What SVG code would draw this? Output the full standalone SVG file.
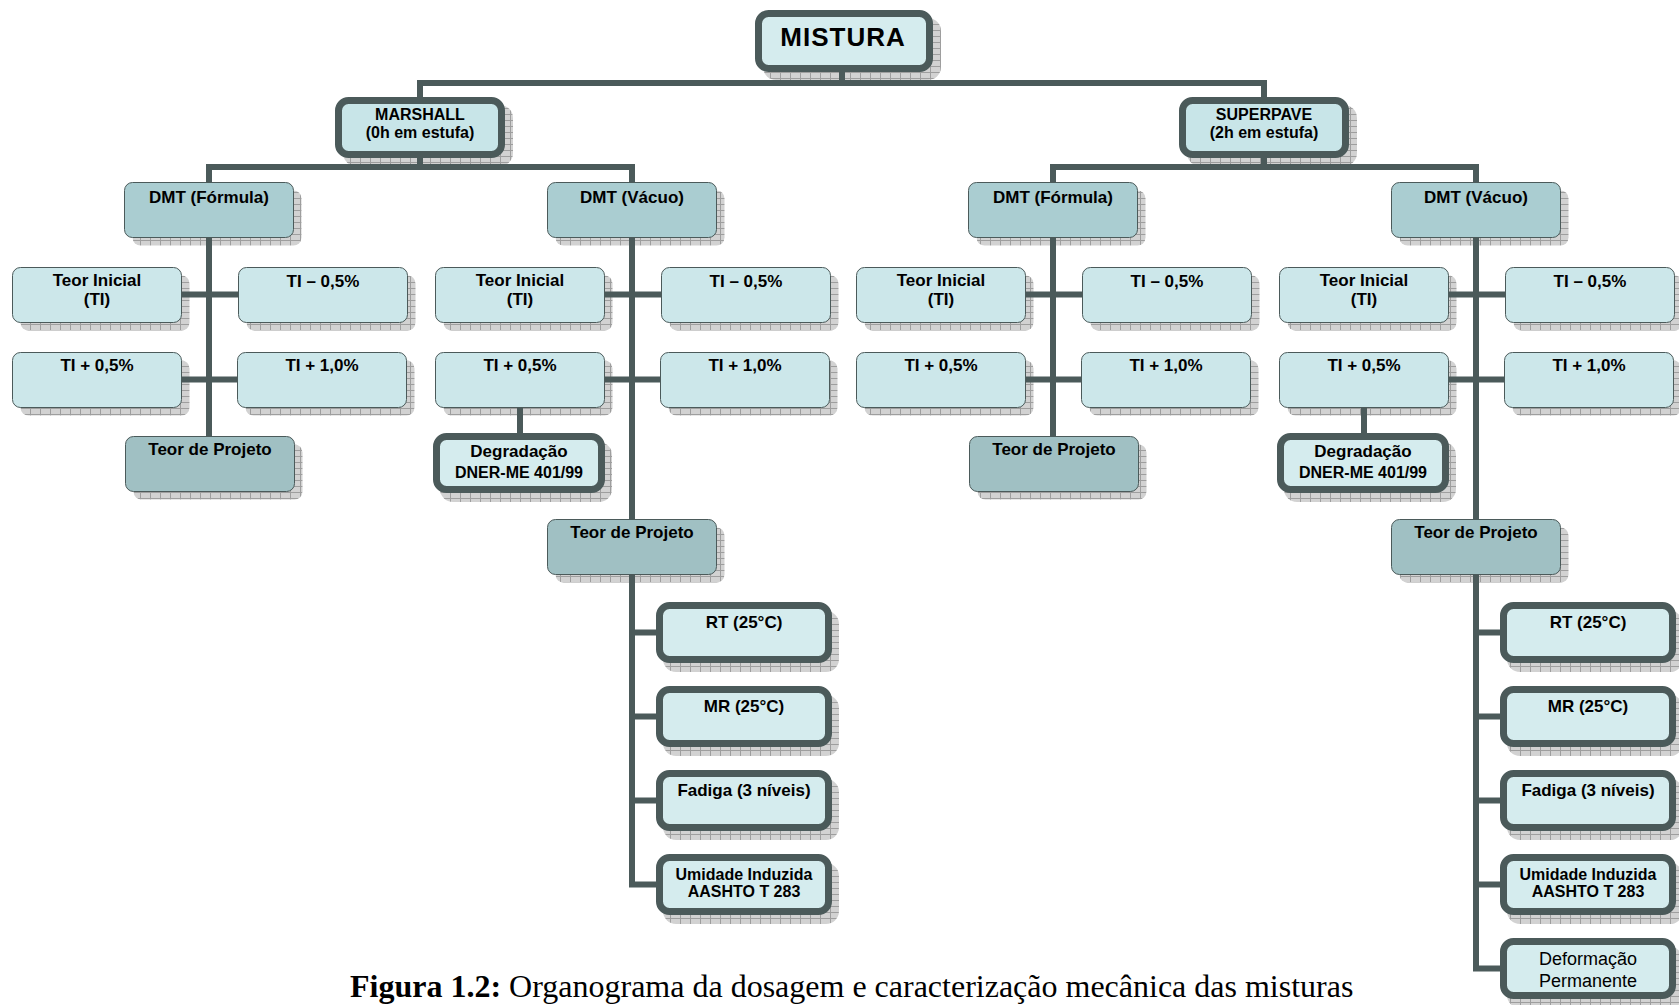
<svg xmlns="http://www.w3.org/2000/svg" width="1679" height="1005" viewBox="0 0 1679 1005">
<defs>
<pattern id="hatch" width="10" height="6" patternUnits="userSpaceOnUse">
<rect width="10" height="6" fill="#d2d2d2"/>
<path d="M0 0.5H10M0.5 0V6" stroke="#9e9e9e" stroke-width="1"/>
</pattern>
</defs>
<style>
.sh{fill:url(#hatch)}
.lt{fill:#cce7ea;stroke:#4b5a5a;stroke-width:1}
.dm{fill:#aacdd1;stroke:#4b5a5a;stroke-width:1}
.pj{fill:#a0c0c3;stroke:#4b5a5a;stroke-width:1}
.tk{fill:#d5ecee;stroke:#4b5a5a;stroke-width:7}
.hd{fill:#c8e5e8;stroke:#4b5a5a;stroke-width:7}
.c{stroke:#4b5a5a;stroke-width:6;fill:none}
.t{font-family:"Liberation Sans",Arial,sans-serif;font-weight:bold;font-size:17px;text-anchor:middle;fill:#000}
.s{font-size:16px}
.r{font-weight:normal;font-size:18px}
.cap{font-family:"Liberation Serif","Times New Roman",serif;font-size:32px;fill:#000}
</style>

<g id="shadows">
<rect class="sh" x="763" y="18" width="178" height="62" rx="13"/>
<rect class="sh" x="343" y="105" width="170" height="61" rx="13"/>
<rect class="sh" x="1187" y="105" width="170" height="61" rx="13"/>
<rect class="sh" x="132.5" y="190.5" width="169" height="55" rx="8"/>
<rect class="sh" x="20.5" y="275.5" width="169" height="55" rx="8"/>
<rect class="sh" x="246.5" y="275.5" width="169" height="55" rx="8"/>
<rect class="sh" x="20.5" y="360.5" width="169" height="55" rx="8"/>
<rect class="sh" x="245.5" y="360.5" width="169" height="55" rx="8"/>
<rect class="sh" x="133.5" y="444.5" width="169" height="55" rx="8"/>
<rect class="sh" x="555.5" y="190.5" width="169" height="55" rx="8"/>
<rect class="sh" x="443.5" y="275.5" width="169" height="55" rx="8"/>
<rect class="sh" x="669.5" y="275.5" width="169" height="55" rx="8"/>
<rect class="sh" x="443.5" y="360.5" width="169" height="55" rx="8"/>
<rect class="sh" x="668.5" y="360.5" width="169" height="55" rx="8"/>
<rect class="sh" x="440" y="442" width="172" height="60" rx="13"/>
<rect class="sh" x="555.5" y="527.5" width="169" height="55" rx="8"/>
<rect class="sh" x="663" y="611" width="176" height="61" rx="13"/>
<rect class="sh" x="663" y="695" width="176" height="61" rx="13"/>
<rect class="sh" x="663" y="779" width="176" height="61" rx="13"/>
<rect class="sh" x="663" y="863" width="176" height="61" rx="13"/>
<rect class="sh" x="976.5" y="190.5" width="169" height="55" rx="8"/>
<rect class="sh" x="864.5" y="275.5" width="169" height="55" rx="8"/>
<rect class="sh" x="1090.5" y="275.5" width="169" height="55" rx="8"/>
<rect class="sh" x="864.5" y="360.5" width="169" height="55" rx="8"/>
<rect class="sh" x="1089.5" y="360.5" width="169" height="55" rx="8"/>
<rect class="sh" x="977.5" y="444.5" width="169" height="55" rx="8"/>
<rect class="sh" x="1399.5" y="190.5" width="169" height="55" rx="8"/>
<rect class="sh" x="1287.5" y="275.5" width="169" height="55" rx="8"/>
<rect class="sh" x="1513.5" y="275.5" width="169" height="55" rx="8"/>
<rect class="sh" x="1287.5" y="360.5" width="169" height="55" rx="8"/>
<rect class="sh" x="1512.5" y="360.5" width="169" height="55" rx="8"/>
<rect class="sh" x="1284" y="442" width="172" height="60" rx="13"/>
<rect class="sh" x="1399.5" y="527.5" width="169" height="55" rx="8"/>
<rect class="sh" x="1507" y="611" width="176" height="61" rx="13"/>
<rect class="sh" x="1507" y="695" width="176" height="61" rx="13"/>
<rect class="sh" x="1507" y="779" width="176" height="61" rx="13"/>
<rect class="sh" x="1507" y="863" width="176" height="61" rx="13"/>
<rect class="sh" x="1507" y="947" width="176" height="61" rx="13"/>
</g>

<g id="connectors">
<path class="c" d="M842 72V83M417 83H1267M420 83V98M1264 83V98"/>
<path class="c" d="M420 158V167M206 167H635M209 167V183M632 167V183"/>
<path class="c" d="M209 238V437M182 294.5H238M182 379.5H237"/>
<path class="c" d="M632 238V520M605 294.5H661M605 379.5H660M520 407V434"/>
<path class="c" d="M632 575V884.5H658M632 632.5H658M632 716.5H658M632 800.5H658"/>
<path class="c" d="M1264 158V167M1050 167H1479M1053 167V183M1476 167V183"/>
<path class="c" d="M1053 238V437M1026 294.5H1082M1026 379.5H1081"/>
<path class="c" d="M1476 238V520M1449 294.5H1505M1449 379.5H1504M1364 407V434"/>
<path class="c" d="M1476 575V968.5H1502M1476 632.5H1502M1476 716.5H1502M1476 800.5H1502M1476 884.5H1502"/>
</g>

<g id="mistura"><rect class="tk" x="758.5" y="13.5" width="171" height="55" rx="10"/><text class="t" x="843" y="46" style="font-size:26px;letter-spacing:1px">MISTURA</text></g>
<g id="marshall"><rect class="hd" x="338.5" y="100.5" width="163" height="54" rx="10"/><text class="t s" x="420" y="120">MARSHALL</text><text class="t s" x="420" y="138">(0h em estufa)</text></g>
<g id="superpave"><rect class="hd" x="1182.5" y="100.5" width="163" height="54" rx="10"/><text class="t s" x="1264" y="120">SUPERPAVE</text><text class="t s" x="1264" y="138">(2h em estufa)</text></g>

<g id="m_dmt_formula"><rect class="dm" x="124.5" y="182.5" width="169" height="55" rx="8"/><text class="t" x="209" y="203">DMT (Fórmula)</text></g>
<g id="m_f_ti"><rect class="lt" x="12.5" y="267.5" width="169" height="55" rx="8"/><text class="t" x="97" y="286">Teor Inicial</text><text class="t" x="97" y="305">(TI)</text></g>
<g id="m_f_tim05"><rect class="lt" x="238.5" y="267.5" width="169" height="55" rx="8"/><text class="t" x="323" y="287">TI – 0,5%</text></g>
<g id="m_f_tip05"><rect class="lt" x="12.5" y="352.5" width="169" height="55" rx="8"/><text class="t" x="97" y="371">TI + 0,5%</text></g>
<g id="m_f_tip10"><rect class="lt" x="237.5" y="352.5" width="169" height="55" rx="8"/><text class="t" x="322" y="371">TI + 1,0%</text></g>
<g id="m_f_projeto"><rect class="pj" x="125.5" y="436.5" width="169" height="55" rx="8"/><text class="t" x="210" y="455">Teor de Projeto</text></g>
<g id="m_dmt_vacuo"><rect class="dm" x="547.5" y="182.5" width="169" height="55" rx="8"/><text class="t" x="632" y="203">DMT (Vácuo)</text></g>
<g id="m_v_ti"><rect class="lt" x="435.5" y="267.5" width="169" height="55" rx="8"/><text class="t" x="520" y="286">Teor Inicial</text><text class="t" x="520" y="305">(TI)</text></g>
<g id="m_v_tim05"><rect class="lt" x="661.5" y="267.5" width="169" height="55" rx="8"/><text class="t" x="746" y="287">TI – 0,5%</text></g>
<g id="m_v_tip05"><rect class="lt" x="435.5" y="352.5" width="169" height="55" rx="8"/><text class="t" x="520" y="371">TI + 0,5%</text></g>
<g id="m_v_tip10"><rect class="lt" x="660.5" y="352.5" width="169" height="55" rx="8"/><text class="t" x="745" y="371">TI + 1,0%</text></g>
<g id="m_degradacao"><rect class="tk" x="436.5" y="436.5" width="165" height="53" rx="10"/><text class="t" x="519" y="457">Degradação</text><text class="t s" x="519" y="478">DNER-ME 401/99</text></g>
<g id="m_v_projeto"><rect class="pj" x="547.5" y="519.5" width="169" height="55" rx="8"/><text class="t" x="632" y="538">Teor de Projeto</text></g>
<g id="m_rt"><rect class="tk" x="659.5" y="605.5" width="169" height="54" rx="10"/><text class="t" x="744" y="628">RT (25°C)</text></g>
<g id="m_mr"><rect class="tk" x="659.5" y="689.5" width="169" height="54" rx="10"/><text class="t" x="744" y="712">MR (25°C)</text></g>
<g id="m_fadiga"><rect class="tk" x="659.5" y="773.5" width="169" height="54" rx="10"/><text class="t" x="744" y="796">Fadiga (3 níveis)</text></g>
<g id="m_umidade"><rect class="tk" x="659.5" y="857.5" width="169" height="54" rx="10"/><text class="t s" x="744" y="880">Umidade Induzida</text><text class="t s" x="744" y="897">AASHTO T 283</text></g>

<g id="s_dmt_formula"><rect class="dm" x="968.5" y="182.5" width="169" height="55" rx="8"/><text class="t" x="1053" y="203">DMT (Fórmula)</text></g>
<g id="s_f_ti"><rect class="lt" x="856.5" y="267.5" width="169" height="55" rx="8"/><text class="t" x="941" y="286">Teor Inicial</text><text class="t" x="941" y="305">(TI)</text></g>
<g id="s_f_tim05"><rect class="lt" x="1082.5" y="267.5" width="169" height="55" rx="8"/><text class="t" x="1167" y="287">TI – 0,5%</text></g>
<g id="s_f_tip05"><rect class="lt" x="856.5" y="352.5" width="169" height="55" rx="8"/><text class="t" x="941" y="371">TI + 0,5%</text></g>
<g id="s_f_tip10"><rect class="lt" x="1081.5" y="352.5" width="169" height="55" rx="8"/><text class="t" x="1166" y="371">TI + 1,0%</text></g>
<g id="s_f_projeto"><rect class="pj" x="969.5" y="436.5" width="169" height="55" rx="8"/><text class="t" x="1054" y="455">Teor de Projeto</text></g>
<g id="s_dmt_vacuo"><rect class="dm" x="1391.5" y="182.5" width="169" height="55" rx="8"/><text class="t" x="1476" y="203">DMT (Vácuo)</text></g>
<g id="s_v_ti"><rect class="lt" x="1279.5" y="267.5" width="169" height="55" rx="8"/><text class="t" x="1364" y="286">Teor Inicial</text><text class="t" x="1364" y="305">(TI)</text></g>
<g id="s_v_tim05"><rect class="lt" x="1505.5" y="267.5" width="169" height="55" rx="8"/><text class="t" x="1590" y="287">TI – 0,5%</text></g>
<g id="s_v_tip05"><rect class="lt" x="1279.5" y="352.5" width="169" height="55" rx="8"/><text class="t" x="1364" y="371">TI + 0,5%</text></g>
<g id="s_v_tip10"><rect class="lt" x="1504.5" y="352.5" width="169" height="55" rx="8"/><text class="t" x="1589" y="371">TI + 1,0%</text></g>
<g id="s_degradacao"><rect class="tk" x="1280.5" y="436.5" width="165" height="53" rx="10"/><text class="t" x="1363" y="457">Degradação</text><text class="t s" x="1363" y="478">DNER-ME 401/99</text></g>
<g id="s_v_projeto"><rect class="pj" x="1391.5" y="519.5" width="169" height="55" rx="8"/><text class="t" x="1476" y="538">Teor de Projeto</text></g>
<g id="s_rt"><rect class="tk" x="1503.5" y="605.5" width="169" height="54" rx="10"/><text class="t" x="1588" y="628">RT (25°C)</text></g>
<g id="s_mr"><rect class="tk" x="1503.5" y="689.5" width="169" height="54" rx="10"/><text class="t" x="1588" y="712">MR (25°C)</text></g>
<g id="s_fadiga"><rect class="tk" x="1503.5" y="773.5" width="169" height="54" rx="10"/><text class="t" x="1588" y="796">Fadiga (3 níveis)</text></g>
<g id="s_umidade"><rect class="tk" x="1503.5" y="857.5" width="169" height="54" rx="10"/><text class="t s" x="1588" y="880">Umidade Induzida</text><text class="t s" x="1588" y="897">AASHTO T 283</text></g>
<g id="s_deformacao"><rect class="tk" x="1503.5" y="941.5" width="169" height="54" rx="10"/><text class="t r" x="1588" y="965">Deformação</text><text class="t r" x="1588" y="987">Permanente</text></g>

<text class="cap" x="350" y="997"><tspan font-weight="bold">Figura 1.2:</tspan> Organograma da dosagem e caracterização mecânica das misturas</text>
</svg>
